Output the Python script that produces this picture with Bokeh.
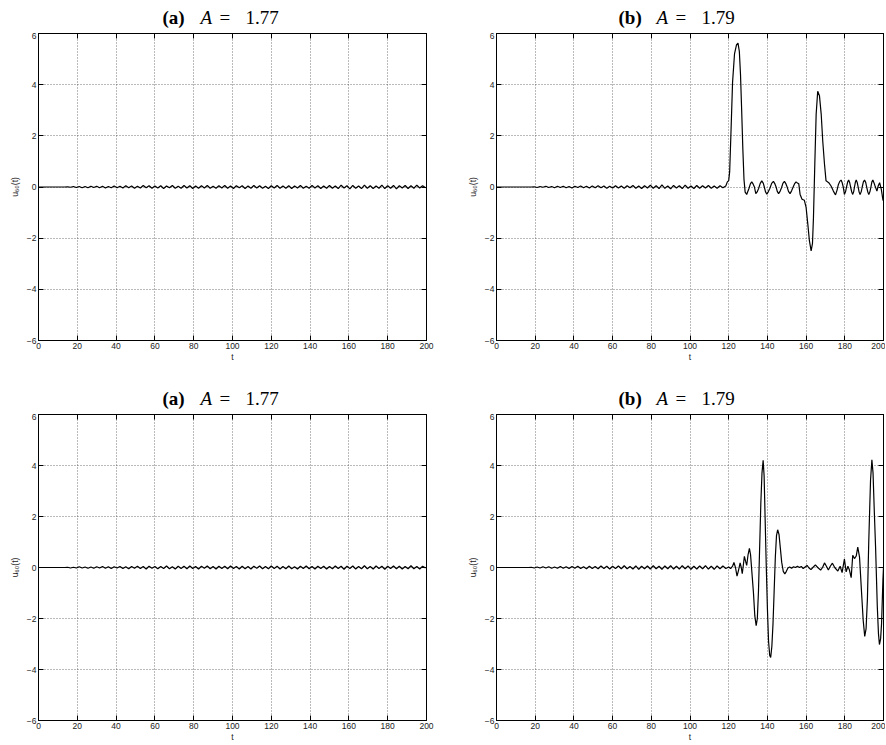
import numpy as np
from bokeh.plotting import figure
from bokeh.models import Range1d, LinearAxis, FixedTicker
from bokeh.core.properties import value
from bokeh.layouts import column, row
from bokeh.embed import file_html
from bokeh.resources import INLINE

# ---------------- data ----------------
X_TICKS = [0, 20, 40, 60, 80, 100, 120, 140, 160, 180, 200]
Y_TICKS = [-6, -4, -2, 0, 2, 4, 6]
Y_TICK_LABELS = ["\u22126", "\u22124", "\u22122", "0", "2", "4", "6"]
PANEL_TAGS = ["(a)", "(b)", "(a)", "(b)"]
PANEL_A_VALUES = ["1.77", "1.79", "1.77", "1.79"]
X_LABEL = "t"
Y_LABEL = "u\u2086\u2080(t)"

SAMPLE_STEP = 1.5  # sampling interval (t units) of the regular parts

A_TOP_U = [0, 0, 0, 0, 0, 0, 0, 0, 0, 0,
           0.01, -0.01, 0.02, -0.02, 0.02, -0.03, 0.02, -0.03, 0.03, -0.02, 0.03,
           -0.03, 0.03, -0.04, 0.02, -0.03, 0.04, -0.03, 0.03, -0.04, 0.05, -0.03, 0.04, -0.05, 0.03, -0.04, 0.06, -0.03, 0.05, -0.05, 0.04,
           -0.04, 0.05, -0.06, 0.04, -0.03, 0.06, -0.05, 0.03, -0.05, 0.06, -0.04, 0.05, -0.06, 0.04, -0.05, 0.05, -0.04, 0.06, -0.05, 0.03,
           -0.05, 0.05, -0.04, 0.06, -0.05, 0.04, -0.06, 0.05, -0.03, 0.05, -0.06, 0.04, -0.05, 0.06, -0.04, 0.05, -0.05, 0.03, -0.06, 0.05,
           -0.04, 0.06, -0.05, 0.04, -0.05, 0.05, -0.06, 0.04, -0.04, 0.06, -0.05, 0.03, -0.05, 0.06, -0.04, 0.05, -0.06, 0.04, -0.05, 0.06,
           -0.05, 0.04, -0.06, 0.07, -0.04, 0.05, -0.07, 0.06, -0.05, 0.04, -0.06, 0.07, -0.05, 0.05, -0.06, 0.04, -0.05, 0.07, -0.06, 0.05,
           -0.05, 0.06, -0.07, 0.05, -0.04, 0.06, -0.06, 0.05, -0.05, 0.07, -0.04, 0.05, -0.03]

A_BOT_U = [0, 0, 0, 0, 0, 0, 0, 0, 0, 0,
           0.01, -0.02, 0.01, -0.02, 0.03, -0.02, 0.02, -0.03, 0.02, -0.03, 0.03,
           -0.02, 0.04, -0.03, 0.03, -0.04, 0.03, -0.02, 0.04, -0.04, 0.03, -0.05, 0.04, -0.03, 0.05, -0.04, 0.04, -0.06, 0.05, -0.03, 0.04,
           -0.05, 0.04, -0.04, 0.06, -0.05, 0.03, -0.06, 0.05, -0.04, 0.05, -0.05, 0.06, -0.04, 0.04, -0.06, 0.05, -0.03, 0.06, -0.05, 0.04,
           -0.06, 0.05, -0.04, 0.05, -0.05, 0.06, -0.04, 0.04, -0.06, 0.05, -0.05, 0.04, -0.06, 0.05, -0.03, 0.06, -0.05, 0.04, -0.05, 0.06,
           -0.04, 0.05, -0.06, 0.04, -0.05, 0.06, -0.05, 0.03, -0.06, 0.05, -0.04, 0.06, -0.05, 0.04, -0.06, 0.05, -0.04, 0.05, -0.06, 0.04,
           -0.05, 0.06, -0.04, 0.05, -0.07, 0.05, -0.04, 0.06, -0.06, 0.04, -0.05, 0.07, -0.05, 0.04, -0.06, 0.06, -0.04, 0.05, -0.07, 0.05,
           -0.04, 0.06, -0.05, 0.05, -0.06, 0.04, -0.05, 0.07, -0.05, 0.04, -0.06, 0.05, -0.02]

B_TOP_PRE_U = [0, 0, 0, 0, 0, 0, 0, 0, 0, 0, 0, 0, 0,
               0.01, -0.02, 0.02, -0.01, 0.03, -0.02, 0.02, -0.03, 0.03, -0.02,
               0.03, -0.03, 0.02, -0.04, 0.03, -0.02, 0.04, -0.03, 0.03, -0.04,
               0.04, -0.03, 0.05, -0.03, 0.04, -0.05, 0.03, -0.04, 0.05, -0.04,
               0.04, -0.05, 0.05, -0.03, 0.06, -0.05, 0.04, -0.06, 0.05, -0.04,
               0.07, -0.05, 0.05, -0.06, 0.08, -0.05, 0.04, -0.07, 0.06, -0.04,
               0.05, -0.06, 0.07, -0.05, 0.04, -0.06, 0.06, -0.05, 0.05, -0.04,
               0.06, -0.05, 0.04, -0.05, 0.05, -0.03, 0.04]
B_TOP_EVENT_T = [119.3, 120.0, 120.5, 121.2, 122.0, 123.0, 124.0, 124.8, 125.5, 126.1,
                 126.7, 127.3, 127.9, 128.5, 129.3, 130.5, 131.2, 131.9, 132.6, 133.3, 134.0, 134.8, 135.5,
                 136.3, 137.1, 137.9, 138.4, 139.0, 139.7, 140.5, 141.3, 142.2, 143.1, 143.9, 144.5, 145.1, 145.8, 146.6, 147.3, 148.0, 148.8, 149.6, 150.2,
                 150.9, 151.7, 152.5, 153.2, 154.0, 154.8, 155.5, 156.2, 156.9, 157.9, 159.1, 160.0, 160.9, 161.7,
                 162.6, 163.3, 163.8, 164.5, 165.2, 166.0, 166.9, 167.8, 168.6, 169.5,
                 170.3, 171.7, 172.9, 174.1, 175.2, 176.0, 176.7, 177.4, 178.1, 178.6, 179.2, 179.8, 180.4, 180.9, 181.5,
                 182.0, 182.5, 183.0, 183.6, 184.1, 184.6, 185.0, 185.5, 185.9, 186.4, 186.9, 187.4, 187.9, 188.5, 189.0, 189.6, 190.2, 190.8, 191.3, 191.9,
                 192.4, 193.0, 193.5, 194.0, 194.5, 195.0, 195.6, 196.6, 197.3, 198.0, 198.9, 199.7, 200.0]
B_TOP_EVENT_U = [0.2, 0.25, 0.6, 2.2, 4.1, 5.2, 5.55, 5.62, 5.3, 4.4,
                 3.0, 1.5, 0.3, -0.2, -0.29, -0.05, 0.12, 0.2, 0.12, 0.0, -0.26, -0.18, -0.05,
                 0.14, 0.24, 0.14, 0.0, -0.18, -0.28, -0.18, -0.05, 0.14, 0.22, 0.12, 0.0, -0.17, -0.26, -0.16, -0.03, 0.14, 0.22, 0.12, 0.0,
                 -0.17, -0.26, -0.15, -0.02, 0.12, 0.2, 0.16, 0.13, -0.29, -0.48, -0.52, -0.8, -1.46, -2.1,
                 -2.5, -2.2, -1.2, 0.9, 2.85, 3.74, 3.57, 2.85, 1.8, 0.9,
                 0.24, 0.17, 0.04, -0.16, -0.31, -0.12, 0.1, 0.22, 0.27, 0.18, 0.0, -0.29, -0.18, 0.0, 0.2,
                 0.27, 0.18, 0.0, -0.2, -0.29, -0.18, 0.0, 0.2, 0.27, 0.18, 0.0, -0.2, -0.29, -0.18, 0.0, 0.2, 0.27, 0.18, 0.0, -0.2,
                 -0.29, -0.18, 0.0, 0.2, 0.27, 0.18, 0.05, -0.16, 0.05, 0.17, -0.1, -0.5, -0.55]

B_BOT_PRE_U = [0, 0, 0, 0, 0, 0, 0, 0, 0, 0, 0, 0,
               0.01, -0.02, 0.02, -0.02, 0.03, -0.02, 0.03, -0.03, 0.02, -0.03,
               0.04, -0.03, 0.03, -0.04, 0.04, -0.03, 0.05, -0.04, 0.03, -0.05,
               0.05, -0.04, 0.04, -0.05, 0.06, -0.04, 0.05, -0.06, 0.05, -0.04,
               0.06, -0.05, 0.07, -0.05, 0.04, -0.06, 0.06, -0.07, 0.05, -0.05,
               0.06, -0.06, 0.07, -0.05, 0.05, -0.07, 0.06, -0.05, 0.07, -0.06,
               0.05, -0.06, 0.07, -0.05, 0.06, -0.07, 0.05, -0.06, 0.06, -0.05,
               0.07, -0.06, 0.05, -0.07, 0.06, -0.05, 0.06, -0.04]
B_BOT_EVENT_T = [120.0, 121.0, 122.0, 122.7, 123.5, 124.3, 125.1, 125.9, 126.5, 127.0,
                 127.5, 128.1, 128.7, 129.3, 130.0, 130.7, 131.3, 132.0, 132.8, 133.5,
                 134.2, 134.8, 135.4, 136.0, 136.6, 137.2, 137.8, 138.3, 138.8, 139.4,
                 140.0, 140.6, 141.2, 141.7, 142.3, 142.9, 143.5, 144.1, 144.7, 145.3,
                 146.0, 146.7, 147.4, 148.2, 149.0, 149.8, 150.6, 151.5, 152.5, 153.5,
                 154.5, 155.5, 156.5, 157.5, 158.5, 159.5, 160.5, 161.5, 162.5, 163.5,
                 164.8, 166.0, 167.5, 168.5, 169.5, 170.5, 171.5, 172.5, 173.6, 174.8,
                 176.4, 177.6, 178.6, 179.8, 180.7, 181.6, 182.4, 183.3, 184.1, 185.0,
                 185.9, 186.7, 187.6, 188.6, 189.5, 190.3, 191.0, 191.7, 192.4, 193.3,
                 194.0, 194.6, 195.2, 195.9, 196.8, 197.4, 197.9, 198.5, 199.0, 199.7, 200.0]
B_BOT_EVENT_U = [0.02, -0.04, 0.05, 0.2, 0.0, -0.34, -0.1, 0.18, 0.0, -0.24,
                 0.05, 0.44, 0.25, 0.08, 0.5, 0.75, 0.5, -0.2, -1.0, -1.9,
                 -2.28, -2.0, -0.9, 0.8, 2.5, 3.7, 4.2, 3.6, 2.0, 0.1,
                 -1.6, -2.9, -3.45, -3.53, -3.1, -2.2, -0.9, 0.4, 1.25, 1.48,
                 1.3, 0.75, 0.2, -0.15, -0.25, -0.15, -0.02, 0.02, -0.03, 0.03,
                 0.0, 0.05, 0.0, 0.04, -0.04, 0.02, 0.08, -0.02, -0.08, 0.0,
                 0.1, 0.0, -0.1, 0.0, 0.18, 0.05, -0.1, 0.05, 0.17, 0.0,
                 -0.14, 0.05, -0.2, 0.33, -0.17, 0.05, -0.1, -0.4, 0.48, 0.35,
                 0.45, 0.8, 0.42, -0.9, -2.07, -2.7, -2.4, -1.2, 1.07, 3.42,
                 4.22, 3.7, 2.3, 0.81, -1.54, -2.6, -3.02, -2.8, -2.2, -0.5, 0.0]


def regular_times(vals):
    return list(np.arange(len(vals)) * SAMPLE_STEP)


series_t = [
    regular_times(A_TOP_U),
    regular_times(B_TOP_PRE_U) + B_TOP_EVENT_T,
    regular_times(A_BOT_U),
    regular_times(B_BOT_PRE_U) + B_BOT_EVENT_T,
]
series_u = [
    A_TOP_U,
    B_TOP_PRE_U + B_TOP_EVENT_U,
    A_BOT_U,
    B_BOT_PRE_U + B_BOT_EVENT_U,
]

TICK_FONT = "Liberation Sans"
TITLE_FONT = "Liberation Serif"

# layout (pixels)
LEFT_W, RIGHT_W = 464, 421
LEFT_BORDERS = (38, 38)
RIGHT_BORDERS = (30, 2)


def style_axis(ax, show_labels=True):
    ax.axis_line_color = "black"
    ax.axis_line_width = 1
    ax.major_tick_line_color = "black"
    ax.major_tick_in = 5
    ax.major_tick_out = 0
    ax.minor_tick_line_color = None
    if show_labels:
        ax.major_label_text_font = TICK_FONT
        ax.major_label_text_font_size = "8.5px"
        ax.major_label_text_color = "#222222"
        ax.major_label_standoff = 2
        ax.axis_label_text_font = TICK_FONT
        ax.axis_label_text_font_size = "8.5px"
        ax.axis_label_text_font_style = "normal"
        ax.axis_label_text_color = "#222222"
    else:
        ax.major_label_text_font_size = "0px"
        ax.major_label_text_color = None
        ax.major_label_standoff = 0


def make_caption(i, width, borders, height):
    c = figure(width=width, height=height,
               x_range=Range1d(0, 200), y_range=Range1d(0, height),
               x_axis_type=None, y_axis_type=None,
               output_backend="svg", toolbar_location=None,
               min_border_left=borders[0], min_border_right=borders[1],
               min_border_top=0, min_border_bottom=0,
               background_fill_color="white", border_fill_color="white")
    c.outline_line_color = None
    c.grid.visible = False
    pieces = [
        (PANEL_TAGS[i], 124, "bold"),
        ("A", 162, "italic"),
        ("=", 181, "normal"),
        (PANEL_A_VALUES[i], 207, "normal"),
    ]
    for txt, off, style in pieces:
        c.text(x=[0], y=[15], text=[txt], x_offset=off,
               text_font=value(TITLE_FONT), text_font_style=style,
               text_font_size="19px", text_color="black",
               text_align="left", text_baseline="alphabetic")
    return c


def make_panel(i, width, borders, height, mb_top, mb_bottom):
    p = figure(width=width, height=height,
               x_range=Range1d(0, 200), y_range=Range1d(-6, 6),
               output_backend="svg", toolbar_location=None,
               min_border_left=borders[0], min_border_right=borders[1],
               min_border_top=mb_top, min_border_bottom=mb_bottom,
               background_fill_color="white", border_fill_color="white")
    p.outline_line_color = "black"
    p.outline_line_width = 1

    p.xaxis.ticker = FixedTicker(ticks=X_TICKS)
    p.yaxis.ticker = FixedTicker(ticks=Y_TICKS)
    p.yaxis.major_label_overrides = {t: s for t, s in zip(Y_TICKS, Y_TICK_LABELS)}
    p.xaxis.axis_label = X_LABEL
    p.yaxis.axis_label = Y_LABEL
    style_axis(p.xaxis[0])
    style_axis(p.yaxis[0])
    p.xaxis.axis_label_standoff = 0
    p.yaxis.axis_label_standoff = 4

    top_ax = LinearAxis(ticker=FixedTicker(ticks=X_TICKS))
    style_axis(top_ax, show_labels=False)
    p.add_layout(top_ax, "above")
    right_ax = LinearAxis(ticker=FixedTicker(ticks=Y_TICKS))
    style_axis(right_ax, show_labels=False)
    p.add_layout(right_ax, "right")

    p.xgrid.ticker = FixedTicker(ticks=X_TICKS)
    p.ygrid.ticker = FixedTicker(ticks=Y_TICKS)
    for g in (p.xgrid[0], p.ygrid[0]):
        g.grid_line_color = "#3a3a3a"
        g.grid_line_alpha = 0.7
        g.grid_line_dash = "1 2"
        g.grid_line_width = 1

    p.line(series_t[i], series_u[i], line_color="black", line_width=1.2)
    return p


c1 = make_caption(0, LEFT_W, LEFT_BORDERS, 32)
c2 = make_caption(1, RIGHT_W, RIGHT_BORDERS, 32)
p1 = make_panel(0, LEFT_W, LEFT_BORDERS, 338, 1, 30)
p2 = make_panel(1, RIGHT_W, RIGHT_BORDERS, 338, 1, 30)
c3 = make_caption(2, LEFT_W, LEFT_BORDERS, 43)
c4 = make_caption(3, RIGHT_W, RIGHT_BORDERS, 43)
p3 = make_panel(2, LEFT_W, LEFT_BORDERS, 331, 1, 24)
p4 = make_panel(3, RIGHT_W, RIGHT_BORDERS, 331, 1, 24)

layout = column(row(c1, c2, spacing=0), row(p1, p2, spacing=0),
                row(c3, c4, spacing=0), row(p3, p4, spacing=0), spacing=0)

open("out.html", "w").write(file_html(layout, INLINE))
